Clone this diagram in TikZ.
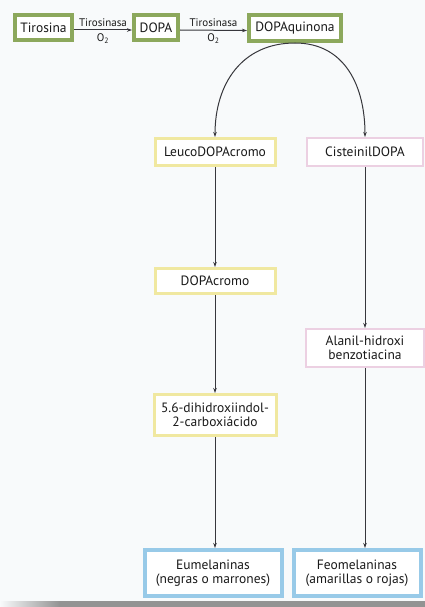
\documentclass[tikz,border=0pt]{standalone}
\usepackage{fontspec}
\setmainfont{PT Sans}
\usetikzlibrary{arrows.meta}
\definecolor{bg}{RGB}{248,250,251}
\definecolor{grn}{RGB}{140,168,92}
\definecolor{ylw}{RGB}{240,232,160}
\definecolor{pnk}{RGB}{236,208,226}
\definecolor{blu}{RGB}{152,202,232}
\definecolor{txt}{RGB}{25,25,25}
\definecolor{ln}{RGB}{55,55,60}
\begin{document}
\begin{tikzpicture}[x=1pt,y=-1pt,
  box/.style={draw, fill=white, inner sep=0pt, align=center, text=txt,
    font=\fontsize{13.5}{14}\selectfont},
  gbox/.style={box, draw=grn, line width=4pt},
  ybox/.style={box, draw=ylw, line width=3pt},
  pbox/.style={box, draw=pnk, line width=2pt},
  bbox/.style={box, draw=blu, line width=4pt},
  arr/.style={draw=ln, line width=1pt, -{Stealth[length=5pt,width=3.5pt]}},
  lbl/.style={font=\fontsize{11}{11}\selectfont, text=txt, inner sep=1pt}]
\fill[bg] (0,0) rectangle (425,607);
\useasboundingbox (0,0) rectangle (425,607);
\shade[left color=bg, right color=gray!85] (0,601) rectangle (60,607);
\fill[gray!85] (60,601) rectangle (425,607);

\node[gbox, minimum width=57pt, minimum height=25pt] (tir) at (43.5,27.5) {Tirosina};
\node[gbox, minimum width=44pt, minimum height=25pt] (dopa) at (156,27.5) {DOPA};
\node[gbox, minimum width=92pt, minimum height=26pt] (dq) at (295,28) {DOPAquinona};

\node[ybox, minimum width=120pt, minimum height=27pt] (leuco) at (215,152) {LeucoDOPAcromo};
\node[pbox, minimum width=116pt, minimum height=28pt] (cist) at (365,152) {CisteinilDOPA};
\node[ybox, minimum width=120pt, minimum height=25pt] (dcromo) at (215,281) {DOPAcromo};
\node[ybox, minimum width=122pt, minimum height=41pt] (dhi) at (215,415) {5.6-dihidroxiindol-\\2-carboxiácido};
\node[pbox, minimum width=118pt, minimum height=38pt] (alanil) at (365,348) {Alanil-hidroxi\\benzotiacina};
\node[bbox, minimum width=137pt, minimum height=46pt] (eu) at (213,573) {Eumelaninas\\(negras o marrones)};
\node[bbox, minimum width=127pt, minimum height=46pt] (feo) at (357,573) {Feomelaninas\\(amarillas o rojas)};

\draw[arr] ([yshift=-2.5pt]tir.east) -- node[lbl, above=2pt] {Tirosinasa} node[lbl, below=2pt] {O\textsubscript{2}} ([yshift=-2.5pt]dopa.west);
\draw[arr] ([yshift=-2.5pt]dopa.east) -- node[lbl, above=2pt] {Tirosinasa} node[lbl, below=2pt] {O\textsubscript{2}} ([yshift=-2.5pt]dq.west);

\draw[arr] (dq.south) to[out=180, in=90, looseness=1.1] (leuco.north);
\draw[arr] (dq.south) to[out=0, in=90, looseness=1.1] (cist.north);

\draw[arr] (leuco.south) -- (dcromo.north);
\draw[arr] (dcromo.south) -- (dhi.north);
\draw[arr] (dhi.south) -- (dhi.south |- eu.north);
\draw[arr] (cist.south) -- (alanil.north);
\draw[arr] (alanil.south) -- (alanil.south |- feo.north);
\end{tikzpicture}
\end{document}
